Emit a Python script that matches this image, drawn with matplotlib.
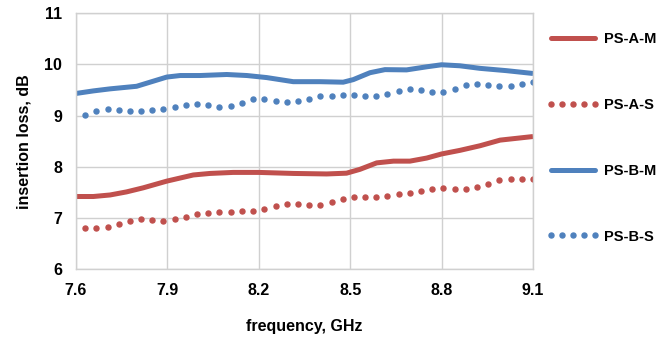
import matplotlib
matplotlib.use("Agg")
import matplotlib.pyplot as plt

plt.rcParams['font.family'] = ['Liberation Sans', 'DejaVu Sans']
plt.rcParams['font.weight'] = 'bold'

# smooth measured curves
freq_m_a = [7.600, 7.657, 7.712, 7.766, 7.821, 7.898, 7.985, 8.040, 8.116, 8.200, 8.313,
            8.423, 8.488, 8.532, 8.587, 8.642, 8.696, 8.751, 8.800, 8.860, 8.926, 8.992, 9.100]
ps_a_m = [7.42, 7.42, 7.45, 7.51, 7.59, 7.72, 7.84, 7.87, 7.89, 7.89, 7.87,
          7.86, 7.875, 7.95, 8.076, 8.11, 8.11, 8.17, 8.25, 8.32, 8.41, 8.52, 8.59]

freq_m_b = [7.600, 7.657, 7.712, 7.799, 7.854, 7.898, 7.942, 8.007, 8.095, 8.161, 8.226, 8.313,
            8.401, 8.477, 8.510, 8.565, 8.614, 8.685, 8.751, 8.800, 8.860, 8.926, 9.013, 9.100]
ps_b_m = [9.43, 9.48, 9.52, 9.57, 9.67, 9.75, 9.78, 9.78, 9.80, 9.78, 9.74, 9.66,
          9.66, 9.65, 9.70, 9.835, 9.895, 9.89, 9.95, 9.99, 9.97, 9.92, 9.875, 9.82]

# simulated curves (dotted)
freq_s = [7.630, 7.667, 7.704, 7.740, 7.777, 7.814, 7.851, 7.887, 7.924, 7.961, 7.998,
          8.034, 8.071, 8.108, 8.145, 8.181, 8.218, 8.255, 8.292, 8.328, 8.365, 8.402,
          8.439, 8.475, 8.512, 8.549, 8.586, 8.622, 8.659, 8.696, 8.733, 8.769, 8.806,
          8.843, 8.880, 8.916, 8.953, 8.990, 9.027, 9.063, 9.100]
ps_a_s = [6.815, 6.80, 6.82, 6.875, 6.947, 6.98, 6.967, 6.947, 6.974, 7.02, 7.072,
          7.099, 7.118, 7.125, 7.138, 7.145, 7.178, 7.23, 7.276, 7.283, 7.257, 7.257,
          7.309, 7.375, 7.414, 7.414, 7.401, 7.421, 7.461, 7.493, 7.533, 7.559, 7.579,
          7.572, 7.566, 7.599, 7.664, 7.737, 7.757, 7.763, 7.763]
ps_b_s = [9.013, 9.079, 9.118, 9.112, 9.086, 9.086, 9.105, 9.125, 9.158, 9.197, 9.217,
          9.197, 9.164, 9.178, 9.237, 9.316, 9.329, 9.289, 9.257, 9.283, 9.329, 9.375,
          9.388, 9.395, 9.401, 9.382, 9.388, 9.421, 9.487, 9.526, 9.507, 9.467, 9.454,
          9.52, 9.586, 9.612, 9.592, 9.566, 9.579, 9.612, 9.645]

xticks = [7.6, 7.9, 8.2, 8.5, 8.8, 9.1]
yticks = [6, 7, 8, 9, 10, 11]

red = '#C0504D'
blue = '#4F81BD'

fig = plt.figure(figsize=(6.59, 3.39), dpi=100)
ax = fig.add_axes([0.1153, 0.2056, 0.6935, 0.7561])

ax.plot(freq_m_a, ps_a_m, color=red, lw=3.6, solid_capstyle='butt',
        solid_joinstyle='round', label='PS-A-M')
ax.plot(freq_s, ps_a_s, ls='none', marker='o', ms=3.6, color=red, mec=red, label='PS-A-S')
ax.plot(freq_m_b, ps_b_m, color=blue, lw=3.6, solid_capstyle='butt',
        solid_joinstyle='round', label='PS-B-M')
ax.plot(freq_s, ps_b_s, ls='none', marker='o', ms=3.6, color=blue, mec=blue, label='PS-B-S')

ax.set_xlim(7.6, 9.1)
ax.set_ylim(6, 11)
ax.set_xticks(xticks)
ax.set_yticks(yticks)
ax.set_xticklabels([f'{t:.1f}' for t in xticks])
ax.tick_params(length=0, labelsize=11.5, pad=10)
ax.grid(True, color='#D0D0D0', lw=1)
for s in ax.spines.values():
    s.set_color('#D0D0D0')
    s.set_linewidth(1)

ax.set_xlabel('frequency, GHz', fontsize=11.5, fontweight='bold', labelpad=15)
ax.set_ylabel('insertion loss, dB', fontsize=11.5, fontweight='bold', labelpad=9)

leg = fig.legend(loc='upper left', bbox_to_anchor=(0.83, 0.905), frameon=False,
                 fontsize=10.5, labelspacing=3.55, handlelength=3.6,
                 handletextpad=0.3, numpoints=5, borderaxespad=0, borderpad=0)
for h in leg.get_lines():
    h.set_solid_capstyle('round')

fig.savefig('out.png', dpi=100)
